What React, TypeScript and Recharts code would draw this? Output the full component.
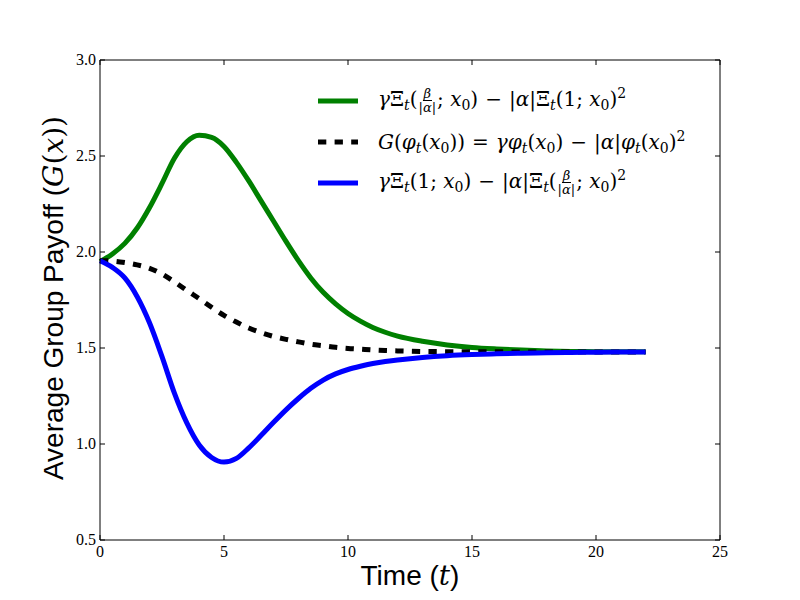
import { LineChart, Line, XAxis, YAxis, Legend } from 'recharts';

const time = [0, 0.5, 1, 1.5, 2, 2.5, 3, 3.5, 4, 4.5, 5, 5.5, 6, 6.5, 7, 7.5, 8, 8.5, 9, 9.5, 10, 10.5, 11, 11.5, 12, 13, 14, 15, 16, 17, 18, 19, 20, 21, 22];

const upper = [1.95, 1.99, 2.045, 2.125, 2.232, 2.357, 2.488, 2.574, 2.608, 2.597, 2.55, 2.467, 2.37, 2.265, 2.16, 2.055, 1.955, 1.865, 1.79, 1.73, 1.68, 1.64, 1.607, 1.582, 1.562, 1.535, 1.516, 1.503, 1.495, 1.489, 1.485, 1.482, 1.481, 1.48, 1.48];

const middle = [1.955, 1.953, 1.945, 1.933, 1.915, 1.885, 1.845, 1.8, 1.757, 1.712, 1.67, 1.635, 1.604, 1.58, 1.56, 1.545, 1.532, 1.52, 1.512, 1.504, 1.498, 1.494, 1.49, 1.487, 1.485, 1.482, 1.481, 1.48, 1.48, 1.479, 1.479, 1.479, 1.479, 1.479, 1.479];

const lower = [1.955, 1.92, 1.865, 1.767, 1.63, 1.455, 1.265, 1.11, 0.995, 0.93, 0.906, 0.925, 0.98, 1.045, 1.113, 1.178, 1.237, 1.29, 1.333, 1.365, 1.388, 1.405, 1.419, 1.43, 1.438, 1.451, 1.46, 1.466, 1.47, 1.473, 1.475, 1.477, 1.478, 1.479, 1.479];

const xTicks = [0, 5, 10, 15, 20, 25];
const yTicks = [0.5, 1.0, 1.5, 2.0, 2.5, 3.0];

const data = time.map((t, i) => ({ t, upper: upper[i], middle: middle[i], lower: lower[i] }));

const serif = '"DejaVu Serif", "Liberation Serif", serif';
const tickFont = '"Liberation Serif", serif';
const sans = '"Liberation Sans", Arial, sans-serif';
const TICK = 5;

// matplotlib classic style: ticks point inward on all four sides
const BottomTick = (props: any) => {
  const { x, y, payload } = props;
  return (
    <g>
      <line x1={x} y1={y} x2={x} y2={y - TICK} stroke="#000" />
      <text x={x} y={y + 17} textAnchor="middle" fontFamily={tickFont} fontSize={16} fill="#000">
        {payload.value}
      </text>
    </g>
  );
};

const TopTick = (props: any) => {
  const { x, y } = props;
  return <line x1={x} y1={y} x2={x} y2={y + TICK} stroke="#000" />;
};

const LeftTick = (props: any) => {
  const { x, y, payload } = props;
  return (
    <g>
      <line x1={x} y1={y} x2={x + TICK} y2={y} stroke="#000" />
      <text x={x - 4} y={y + 5} textAnchor="end" fontFamily={tickFont} fontSize={16} fill="#000">
        {Number(payload.value).toFixed(1)}
      </text>
    </g>
  );
};

const RightTick = (props: any) => {
  const { x, y } = props;
  return <line x1={x} y1={y} x2={x - TICK} y2={y} stroke="#000" />;
};

const XLabel = (props: any) => {
  const { viewBox } = props;
  return (
    <text x={viewBox.x + viewBox.width / 2} y={viewBox.y + 45} textAnchor="middle" fontFamily={sans} fontSize={28} fill="#000">
      Time (<tspan fontFamily={serif} fontStyle="italic">t</tspan>)
    </text>
  );
};

const YLabel = (props: any) => {
  const { viewBox } = props;
  const x = viewBox.x + 23;
  const y = viewBox.y + viewBox.height / 2 - 2;
  return (
    <text x={x} y={y} transform={`rotate(-90 ${x} ${y})`} textAnchor="middle" fontFamily={sans} fontSize={28} fill="#000">
      Average Group Payoff (<tspan fontFamily={serif} fontStyle="italic">G</tspan>
      <tspan fontFamily={serif}>(</tspan>
      <tspan fontFamily={serif} fontStyle="italic">x</tspan>
      <tspan fontFamily={serif}>))</tspan>
    </text>
  );
};

const I = ({ children }: any) => <span style={{ fontStyle: 'italic' }}>{children}</span>;
const Sub = ({ children }: any) => <sub style={{ fontSize: 14, verticalAlign: '-0.3em', lineHeight: 0 }}>{children}</sub>;
const Sup = ({ children }: any) => <sup style={{ fontSize: 14, verticalAlign: '0.6em', lineHeight: 0 }}>{children}</sup>;
const Op = ({ children }: any) => <span style={{ margin: '0 7px' }}>{children}</span>;
const Frac = () => (
  <span style={{ display: 'inline-flex', flexDirection: 'column', alignItems: 'center', verticalAlign: 'middle', fontSize: 13, lineHeight: '13px', margin: '0 1px' }}>
    <span style={{ fontStyle: 'italic', borderBottom: '1px solid #000', padding: '0 1px' }}>β</span>
    <span>|<I>α</I>|</span>
  </span>
);

const legendRows = [
  {
    color: 'green',
    dash: undefined as string | undefined,
    label: (
      <>
        <I>γ</I>Ξ<Sub><I>t</I></Sub>(<Frac />; <I>x</I><Sub>0</Sub>)<Op>−</Op>|<I>α</I>|Ξ<Sub><I>t</I></Sub>(1; <I>x</I><Sub>0</Sub>)<Sup>2</Sup>
      </>
    ),
  },
  {
    color: '#000',
    dash: '8.3 8.3',
    label: (
      <>
        <I>G</I>(<I>φ</I><Sub><I>t</I></Sub>(<I>x</I><Sub>0</Sub>))<Op>=</Op><I>γφ</I><Sub><I>t</I></Sub>(<I>x</I><Sub>0</Sub>)<Op>−</Op>|<I>α</I>|<I>φ</I><Sub><I>t</I></Sub>(<I>x</I><Sub>0</Sub>)<Sup>2</Sup>
      </>
    ),
  },
  {
    color: 'blue',
    dash: undefined as string | undefined,
    label: (
      <>
        <I>γ</I>Ξ<Sub><I>t</I></Sub>(1; <I>x</I><Sub>0</Sub>)<Op>−</Op>|<I>α</I>|Ξ<Sub><I>t</I></Sub>(<Frac />; <I>x</I><Sub>0</Sub>)<Sup>2</Sup>
      </>
    ),
  },
];

const LegendBox = () => (
  <div style={{ fontFamily: serif, fontSize: 20, color: '#000' }}>
    {legendRows.map((row, i) => (
      <div key={i} style={{ display: 'flex', alignItems: 'center', height: 41 }}>
        <svg width={40} height={10} style={{ marginRight: 20 }}>
          <line x1={0} y1={5} x2={40} y2={5} stroke={row.color} strokeWidth={5} strokeDasharray={row.dash} />
        </svg>
        <span style={{ whiteSpace: 'nowrap' }}>{row.label}</span>
      </div>
    ))}
  </div>
);

export default function App() {
  return (
    <LineChart width={800} height={600} data={data} margin={{ top: 51, right: 87, bottom: 8, left: 32 }}>
      <XAxis
        dataKey="t"
        type="number"
        domain={[0, 25]}
        ticks={xTicks}
        interval={0}
        height={60}
        tickSize={0}
        tickMargin={0}
        tickLine={false}
        tick={<BottomTick />}
        axisLine={{ stroke: '#000' }}
        label={<XLabel />}
      />
      <XAxis
        xAxisId="top"
        dataKey="t"
        type="number"
        orientation="top"
        domain={[0, 25]}
        ticks={xTicks}
        interval={0}
        height={1}
        tickSize={0}
        tickMargin={0}
        tickLine={false}
        tick={<TopTick />}
        axisLine={{ stroke: '#000' }}
      />
      <YAxis
        type="number"
        domain={[0.5, 3.0]}
        ticks={yTicks}
        interval={0}
        width={60}
        tickSize={0}
        tickMargin={0}
        tickLine={false}
        tick={<LeftTick />}
        axisLine={{ stroke: '#000' }}
        label={<YLabel />}
      />
      <YAxis
        yAxisId="right"
        type="number"
        orientation="right"
        domain={[0.5, 3.0]}
        ticks={yTicks}
        interval={0}
        width={1}
        tickSize={0}
        tickMargin={0}
        tickLine={false}
        tick={<RightTick />}
        axisLine={{ stroke: '#000' }}
      />
      <Legend
        layout="vertical"
        align="center"
        verticalAlign="middle"
        content={<LegendBox />}
        wrapperStyle={{ position: 'absolute', left: 310, top: 72, width: 'auto', height: 'auto' }}
      />
      <Line type="monotone" dataKey="upper" stroke="green" strokeWidth={5} dot={false} isAnimationActive={false} />
      <Line type="monotone" dataKey="middle" xAxisId="top" yAxisId="right" stroke="#000" strokeWidth={5} strokeDasharray="8.3 8.3" dot={false} isAnimationActive={false} />
      <Line type="monotone" dataKey="lower" stroke="blue" strokeWidth={5} dot={false} isAnimationActive={false} />
    </LineChart>
  );
}
